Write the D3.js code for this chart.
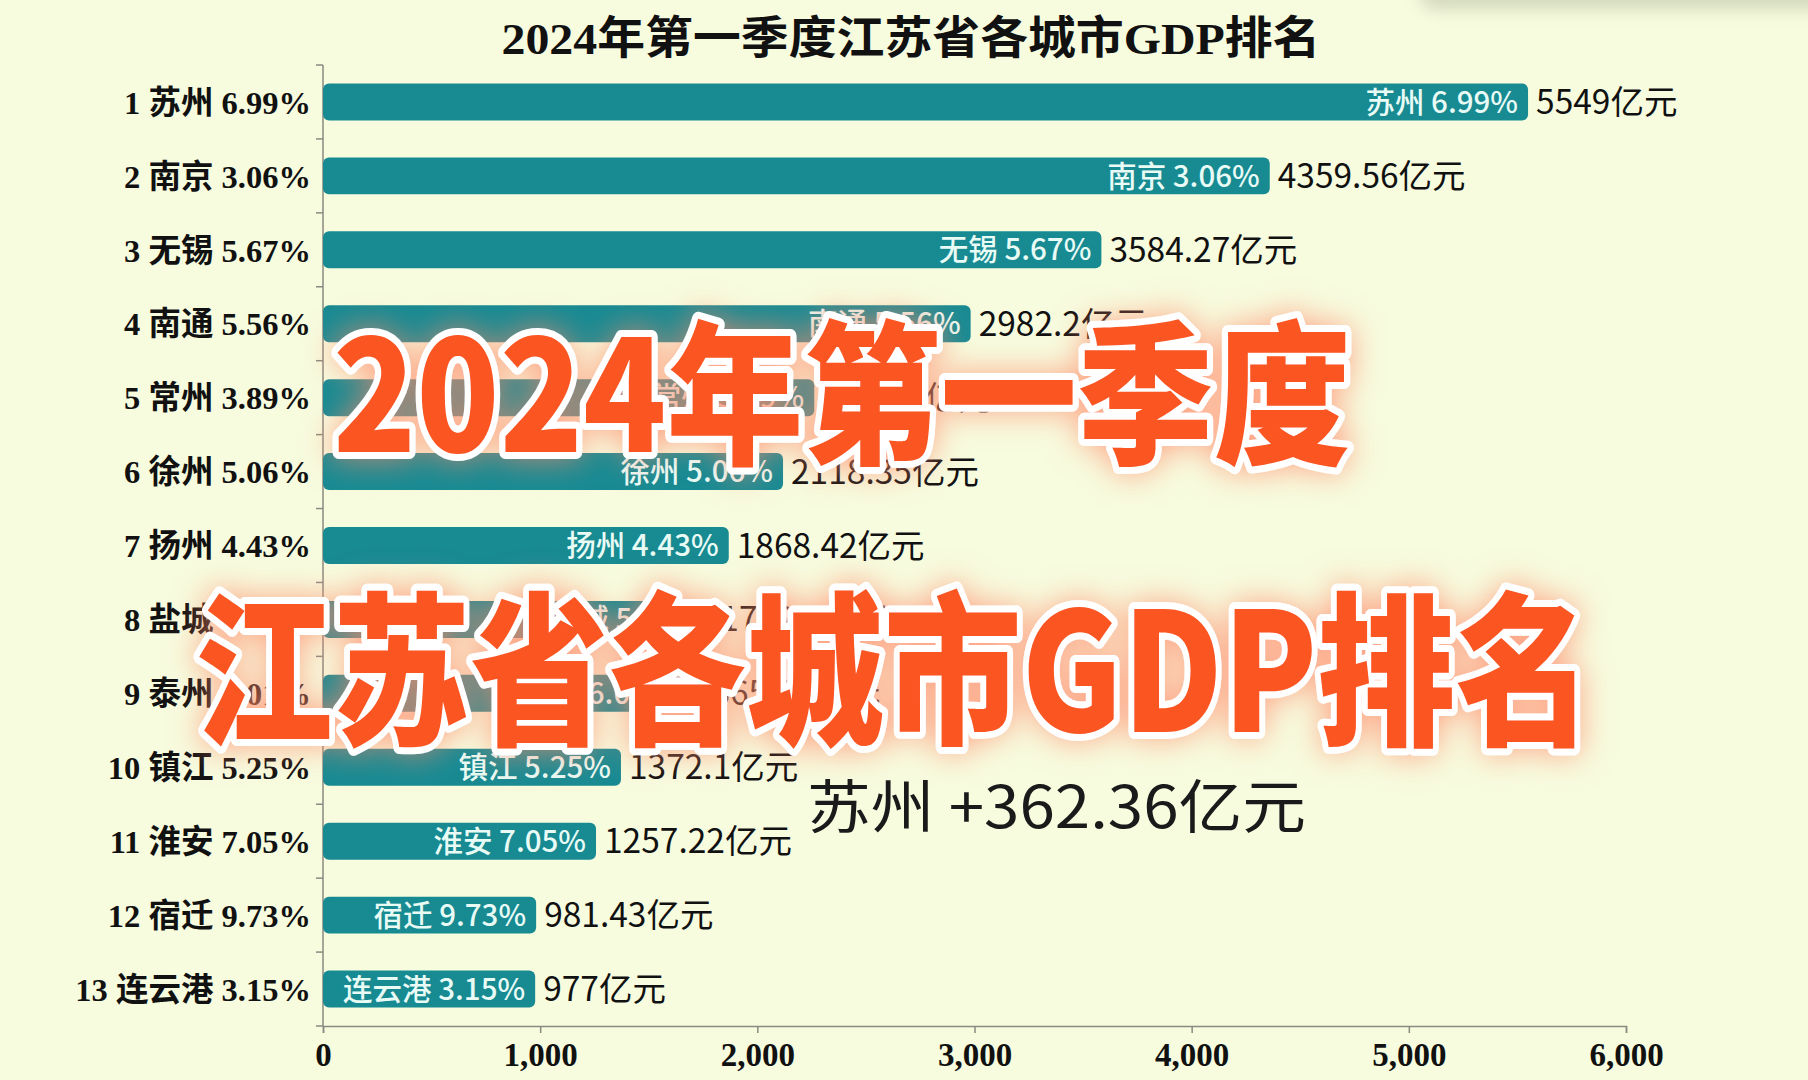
<!DOCTYPE html>
<html><head><meta charset="utf-8">
<script src="https://cdn.jsdelivr.net/npm/d3@7"></script>
<style>
html,body{margin:0;padding:0;background:#f7fcdf;}
svg{display:block;}
</style></head>
<body>
<script>
const title = "2024年第一季度江苏省各城市GDP排名";
const cities = ["苏州","南京","无锡","南通","常州","徐州","扬州","盐城","泰州","镇江","淮安","宿迁","连云港"];
const gdp = [5549, 4359.56, 3584.27, 2982.2, 2262.2, 2118.35, 1868.42, 1792.9, 1665.63, 1372.1, 1257.22, 981.43, 977];
const growth = ["6.99","3.06","5.67","5.56","3.89","5.06","4.43","5.57","6.01","5.25","7.05","9.73","3.15"];
const xTicks = [0,1000,2000,3000,4000,5000,6000];
const annotation = "苏州 +362.36亿元";
const overlay1 = "2024年第一季度";
const overlay2 = "江苏省各城市GDP排名";

const W = 1808, H = 1080;
const svg = d3.select("body").append("svg").attr("width", W).attr("height", H);
const defs = svg.append("defs");
const glow = defs.append("filter").attr("id","glow").attr("filterUnits","userSpaceOnUse")
  .attr("x",0).attr("y",0).attr("width",W).attr("height",H);
glow.append("feGaussianBlur").attr("in","SourceAlpha").attr("stdDeviation",16).attr("result","b");
glow.append("feFlood").attr("flood-color","#ff8a6a").attr("flood-opacity",0.75);
glow.append("feComposite").attr("in2","b").attr("operator","in").attr("result","g");
const m = glow.append("feMerge"); m.append("feMergeNode").attr("in","g"); m.append("feMergeNode").attr("in","SourceGraphic");
const blur = defs.append("filter").attr("id","soft").attr("x","-20%").attr("y","-200%").attr("width","140%").attr("height","500%");
blur.append("feGaussianBlur").attr("stdDeviation",8);

svg.append("rect").attr("width",W).attr("height",H).attr("fill","#f7fcdf");
// top-right shadow
svg.append("rect").attr("x",1420).attr("y",-20).attr("width",420).attr("height",30).attr("rx",15)
  .attr("fill","#b9bfa4").attr("opacity",0.55).attr("filter","url(#soft)");

const data = cities.map((c,i)=>({city:c, v:gdp[i], g:growth[i], rank:i+1}));

const x = d3.scaleLinear().domain([0,6000]).range([323,1626]);
const y = d3.scaleBand().domain(cities).range([65,1026]).paddingInner(0.5).paddingOuter(0.25);

// title
svg.append("text").attr("x",911).attr("y",54).attr("text-anchor","middle")
  .attr("font-family","'Liberation Serif','Noto Sans CJK SC'").attr("font-weight","bold")
  .attr("font-size",45).attr("fill","#111")
  .attr("textLength",819).attr("lengthAdjust","spacingAndGlyphs").text(title);

// axes
const xAxis = svg.append("g").attr("transform","translate(0,1026)")
  .call(d3.axisBottom(x).tickValues(xTicks).tickFormat(d3.format(",")).tickSizeOuter(0).tickSize(7));
xAxis.select(".domain").attr("stroke","#8a8a80").attr("stroke-width",1.5);
xAxis.selectAll(".tick line").attr("stroke","#8a8a80").attr("stroke-width",1.5);
xAxis.selectAll(".tick text").attr("font-family","'Liberation Serif'").attr("font-weight","bold")
  .attr("font-size",33).attr("fill","#111").attr("dy","0.9em");

const yAxisG = svg.append("g");
yAxisG.append("line").attr("x1",323).attr("x2",323).attr("y1",65).attr("y2",1026).attr("stroke","#8a8a80").attr("stroke-width",1.5);
const boundaries = cities.map(c=>y(c) - y.step()*y.paddingInner()/2).concat([1026]);
yAxisG.selectAll("line.tk").data(boundaries).join("line").attr("class","tk")
  .attr("x1",316).attr("x2",323).attr("y1",d=>d).attr("y2",d=>d).attr("stroke","#8a8a80").attr("stroke-width",1.5);

// y labels
svg.append("g").selectAll("text").data(data).join("text")
  .attr("x",311).attr("y",d=>y(d.city)+y.bandwidth()/2).attr("dy","0.36em")
  .attr("text-anchor","end").attr("font-family","'Liberation Serif','Noto Sans CJK SC'")
  .attr("font-weight","bold").attr("font-size",32.5).attr("fill","#111")
  .text(d=>`${d.rank} ${d.city} ${d.g}%`);

// bars
svg.append("g").selectAll("rect").data(data).join("rect")
  .attr("x",x(0)).attr("y",d=>y(d.city)).attr("width",d=>x(d.v)-x(0)).attr("height",y.bandwidth())
  .attr("rx",6).attr("fill","#178a92");

// inner labels
svg.append("g").selectAll("text").data(data).join("text")
  .attr("x",d=>x(d.v)-10).attr("y",d=>y(d.city)+y.bandwidth()/2).attr("dy","0.36em")
  .attr("text-anchor","end").attr("font-family","'Noto Sans CJK SC'").attr("font-weight",500)
  .attr("font-size",29.5).attr("fill","#e8fbf5")
  .text(d=>`${d.city} ${d.g}%`);

// value labels
svg.append("g").selectAll("text").data(data).join("text")
  .attr("x",d=>x(d.v)+8).attr("y",d=>y(d.city)+y.bandwidth()/2).attr("dy","0.36em")
  .attr("font-family","'Noto Sans CJK SC'").attr("font-size",33.5).attr("fill","#111")
  .text(d=>`${d.v}亿元`);

// annotation
svg.append("text").attr("x",807).attr("y",828).attr("font-family","'Noto Sans CJK SC'")
  .attr("font-size",58).attr("fill","#1a1a1a").attr("textLength",499).attr("lengthAdjust","spacingAndGlyphs")
  .text(annotation);

// overlay titles
function bigText(str, xs, ys, size, len){
  svg.append("text").attr("x",xs).attr("y",ys).attr("font-family","'Noto Sans CJK SC'")
    .attr("font-weight",900).attr("font-size",size).attr("fill","#fb5424")
    .attr("stroke","#ffffff").attr("stroke-width",14).attr("stroke-linejoin","round")
    .attr("paint-order","stroke").attr("filter","url(#glow)")
    .attr("textLength",len).attr("lengthAdjust","spacingAndGlyphs").text(str);
}
bigText(overlay1, 333, 452, 155, 1018);
bigText(overlay2, 195, 732, 165, 1398);
</script>
</body></html>
